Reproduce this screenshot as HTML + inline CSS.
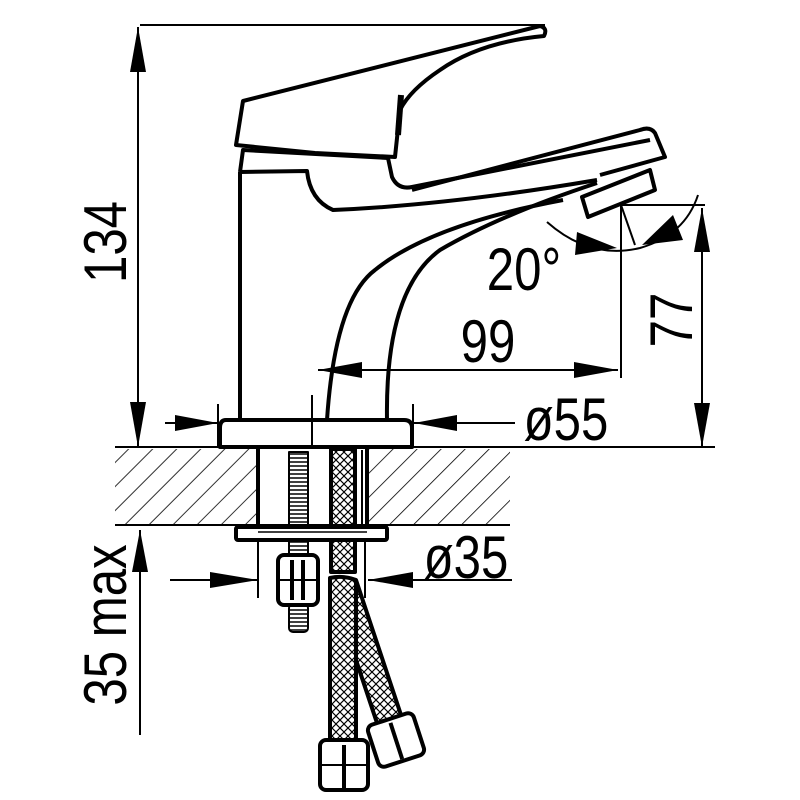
<!DOCTYPE html>
<html><head><meta charset="utf-8"><style>
html,body{margin:0;padding:0;background:#fff;}
svg{display:block;}
text{font-family:"Liberation Sans",sans-serif;font-size:60px;fill:#000;}
</style></head><body>
<svg width="800" height="800" viewBox="0 0 800 800" xmlns="http://www.w3.org/2000/svg">
<defs>
<pattern id="h" width="17" height="17" patternUnits="userSpaceOnUse" patternTransform="rotate(45)">
<line x1="0" y1="0" x2="0" y2="17" stroke="#000" stroke-width="1.6"/>
</pattern>
<pattern id="br" width="8" height="8" patternUnits="userSpaceOnUse">
<path d="M0 4 L4 0 M4 8 L8 4 M0 4 L4 8 M4 0 L8 4" stroke="#000" stroke-width="1.2" fill="none"/>
</pattern>
<pattern id="th" width="20" height="4" patternUnits="userSpaceOnUse">
<line x1="0" y1="2" x2="20" y2="2" stroke="#000" stroke-width="1.5"/>
</pattern>
</defs>
<g fill="none" stroke="#000" stroke-width="4" stroke-linejoin="round">
<rect x="115" y="449" width="142" height="76" fill="url(#h)" stroke="none"/>
<rect x="368" y="449" width="142" height="76" fill="url(#h)" stroke="none"/>
<line x1="115" y1="525" x2="510" y2="525" stroke-width="2"/>
<line x1="115" y1="447" x2="715" y2="447" stroke-width="2"/>
<line x1="258" y1="447" x2="258" y2="527"/>
<line x1="367" y1="447" x2="367" y2="527"/>
<line x1="362" y1="450" x2="362" y2="527" stroke-width="2"/>
<rect x="236" y="527" width="151" height="13" rx="2"/>
<line x1="258" y1="532" x2="367" y2="532" stroke-width="1.5"/>
<rect x="289" y="452" width="19" height="76" fill="url(#th)" stroke-width="2"/>
<rect x="289" y="540" width="19" height="16" fill="url(#th)" stroke-width="2"/>
<rect x="289" y="604" width="19" height="28" rx="4" fill="url(#th)" stroke-width="2"/>
<rect x="278" y="555" width="40" height="50" rx="6" fill="#fff"/>
<line x1="292" y1="560" x2="292" y2="600"/><line x1="303" y1="560" x2="303" y2="600"/>
<line x1="278" y1="580" x2="318" y2="580" stroke-width="2"/>
<rect x="331" y="449" width="24" height="78" fill="url(#br)"/>
<rect x="331" y="540" width="24" height="32" fill="url(#br)"/>
<path d="M330 578 Q343 575 356 580 L402 718 L378 726 L356 660 L356 745 L330 745 Z" fill="url(#br)"/>
<line x1="356" y1="580" x2="356" y2="660"/>
<rect x="320" y="740" width="48" height="50" rx="6" fill="#fff"/>
<line x1="344" y1="745" x2="344" y2="788"/>
<line x1="320" y1="765" x2="368" y2="765" stroke-width="2"/>
<g transform="rotate(-18 396 740)"><rect x="372" y="718" width="48" height="44" rx="6" fill="#fff"/><line x1="396" y1="722" x2="396" y2="760"/></g>
<path d="M226 420 H404 Q412 420 412 428 V447 H220 V428 Q220 420 226 420 Z"/>
<line x1="312" y1="395" x2="312" y2="447" stroke-width="2"/>
<line x1="240" y1="172" x2="240" y2="420"/>
<path d="M240 172 L243 150 L388 158"/>
<path d="M240 172 L307 171 Q310 200 333 210 Q450 205 597 180"/>
<path d="M327 420 Q335 300 375 270 Q430 225 563 200"/>
<path d="M387 420 Q385 290 440 250 Q500 215 597 183"/>
<path d="M388 158 L392 177 Q398 190 412 187 L650 140" stroke-width="4"/>
<path d="M412 190 L640 130 Q650 126 655 133 L665 157 L600 175"/>
<path d="M582 197 L650 170 L655 190 L588 217 Z"/>
<path d="M243 101 L540 26 Q548 28 544 36 Q480 42 440 70 Q410 90 400 110 L395 157 L315 153 L236 145 Z"/>
<path d="M401 95 L398 135" stroke-width="6"/>
<line x1="140" y1="25" x2="545" y2="25" stroke-width="2"/>
<line x1="138" y1="27" x2="138" y2="447" stroke-width="2"/>
<line x1="140" y1="530" x2="140" y2="735" stroke-width="2"/>
<line x1="165" y1="423" x2="218" y2="423" stroke-width="2"/>
<line x1="218" y1="404" x2="218" y2="447" stroke-width="2"/>
<line x1="414" y1="423" x2="515" y2="423" stroke-width="2"/>
<line x1="413" y1="404" x2="413" y2="447" stroke-width="2"/>
<line x1="170" y1="580" x2="258" y2="580" stroke-width="2"/>
<line x1="258" y1="540" x2="258" y2="598" stroke-width="2"/>
<line x1="368" y1="580" x2="512" y2="580" stroke-width="2"/>
<line x1="365" y1="540" x2="365" y2="598" stroke-width="2"/>
<line x1="318" y1="370" x2="618" y2="370" stroke-width="2"/>
<line x1="621" y1="205" x2="621" y2="378" stroke-width="2"/>
<line x1="621" y1="205" x2="705" y2="205" stroke-width="2"/>
<line x1="702" y1="208" x2="702" y2="447" stroke-width="2"/>
<line x1="621" y1="205" x2="635" y2="245" stroke-width="2"/>
<path d="M547 222 Q590 260 640 248 Q685 235 698 195" stroke-width="2"/>
</g>
<g fill="#000">
<polygon points="138,27 130,72 146,72"/>
<polygon points="138,447 130,402 146,402"/>
<polygon points="140,530 132,572 148,572"/>
<polygon points="218,423 175,415 175,431"/>
<polygon points="414,423 457,415 457,431"/>
<polygon points="258,580 210,572 210,588"/>
<polygon points="368,580 413,572 413,588"/>
<polygon points="318,370 362,362 362,378"/>
<polygon points="618,370 574,362 574,378"/>
<polygon points="702,208 694,252 710,252"/>
<polygon points="702,447 694,403 710,403"/>
<polygon points="575,255 617,248 577,232"/>
<polygon points="642,245 683,240 673,215"/>
</g>
<text transform="translate(126,242) rotate(-90) scale(0.82,1)" text-anchor="middle">134</text>
<text transform="translate(126,625) rotate(-90) scale(0.82,1)" text-anchor="middle">35 max</text>
<text transform="translate(692,320) rotate(-90) scale(0.82,1)" text-anchor="middle">77</text>
<text transform="translate(488,362) scale(0.82,1)" text-anchor="middle">99</text>
<text transform="translate(524,290) scale(0.82,1)" text-anchor="middle">20°</text>
<text transform="translate(566,440) scale(0.82,1)" text-anchor="middle">ø55</text>
<text transform="translate(466,578) scale(0.82,1)" text-anchor="middle">ø35</text>
</svg>
</body></html>
